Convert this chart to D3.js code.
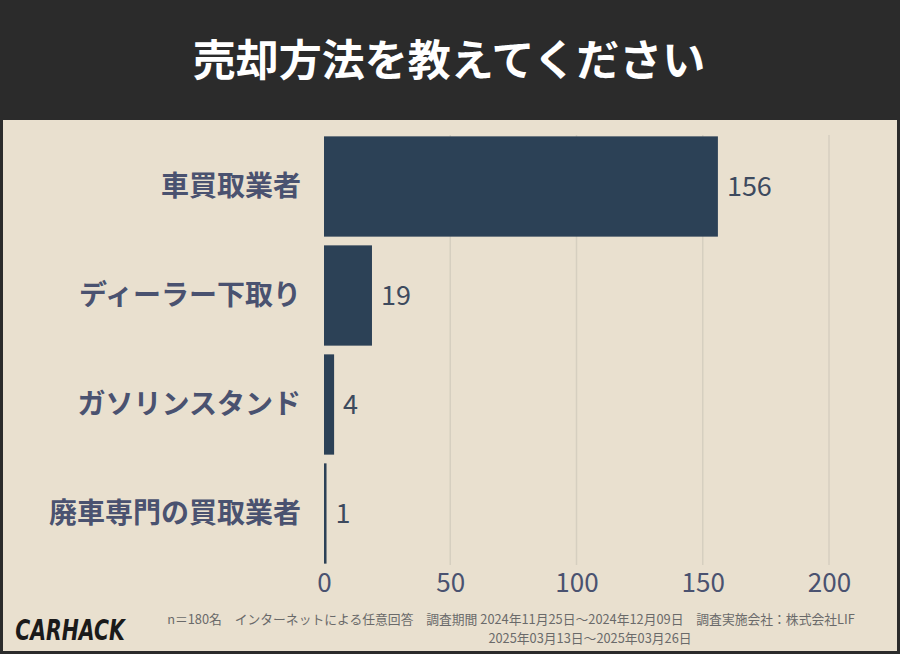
<!DOCTYPE html>
<html><head><meta charset="utf-8">
<script src="https://cdn.jsdelivr.net/npm/d3@7"></script>
<style>body{margin:0}svg{display:block}</style></head>
<body><svg id="c" width="900" height="654"></svg>
<script>
const categories=["車買取業者","ディーラー下取り","ガソリンスタンド","廃車専門の買取業者"];
const values=[156,19,4,1];
const ticks=[0,50,100,150,200];
const title="売却方法を教えてください";
const note1="n＝180名　インターネットによる任意回答　調査期間 2024年11月25日〜2024年12月09日　調査実施会社：株式会社LIF";
const note2="2025年03月13日〜2025年03月26日";
const svg=d3.select("#c");
const F="'Noto Sans CJK JP','Noto Sans',sans-serif";
svg.append("rect").attr("width",900).attr("height",654).attr("fill","#2b2b2b");
svg.append("rect").attr("x",3).attr("y",120).attr("width",894).attr("height",531).attr("fill","#e9e0cf");
svg.append("text").attr("x",449).attr("y",76).attr("text-anchor","middle").attr("fill","#fff")
 .attr("font-family",F).attr("font-weight",700).attr("font-size",43).text(title);
const x=d3.scaleLinear().domain([0,200]).range([324,829]);
const y=d3.scaleBand().domain(categories).range([132,568]).paddingInner(0.08).paddingOuter(0.04);
svg.append("g").selectAll("line").data(ticks.slice(1)).join("line")
 .attr("x1",d=>x(d)).attr("x2",d=>x(d)).attr("y1",135).attr("y2",565).attr("stroke","#d6cfc0").attr("stroke-width",1.5);
svg.append("g").selectAll("rect").data(values).join("rect")
 .attr("x",x(0)).attr("y",(d,i)=>y(categories[i])).attr("height",y.bandwidth())
 .attr("width",d=>x(d)-x(0)).attr("fill","#2c4156");
svg.append("g").selectAll("text").data(values).join("text")
 .attr("x",d=>x(d)+9).attr("y",(d,i)=>y(categories[i])+y.bandwidth()/2).attr("dy","0.35em")
 .attr("font-family",F).attr("font-size",27).attr("fill","#3d4a5e").text(d=>d);
svg.append("g").selectAll("text").data(categories).join("text")
 .attr("x",301).attr("y",d=>y(d)+y.bandwidth()/2).attr("dy","0.35em").attr("text-anchor","end")
 .attr("font-family",F).attr("font-weight",700).attr("font-size",28).attr("fill","#4a5270").text(d=>d);
const ax=svg.append("g").attr("transform","translate(0,566)").call(d3.axisBottom(x).tickValues(ticks).tickSize(0).tickPadding(8));
ax.select(".domain").remove();
ax.selectAll("text").attr("font-family",F).attr("font-size",26).attr("fill","#4a5270");
svg.append("text").attr("x",511).attr("y",624).attr("text-anchor","middle").attr("font-family",F)
 .attr("font-size",12.8).attr("fill","#6a6a6a").text(note1);
svg.append("text").attr("x",590).attr("y",643).attr("text-anchor","middle").attr("font-family",F)
 .attr("font-size",12.8).attr("fill","#6a6a6a").text(note2);
svg.append("text").attr("x",70).attr("y",640).attr("text-anchor","middle").attr("font-family","'DejaVu Sans',sans-serif")
 .attr("font-weight",900).attr("font-style","italic").attr("font-size",24).attr("fill","#1a1a1a")
 .attr("transform","translate(70,640) scale(0.85,1.15) translate(-70,-640)").text("CARHACK");
</script></body></html>
